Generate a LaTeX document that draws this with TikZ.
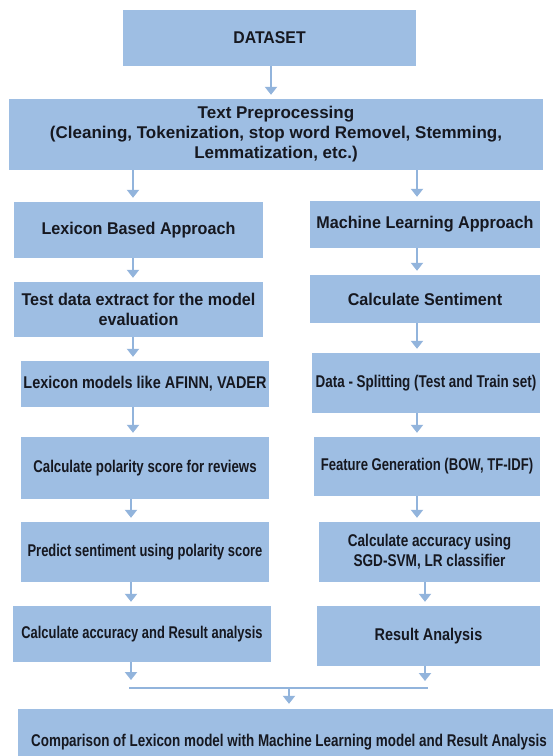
\documentclass[tikz,border=0pt]{standalone}
\usepackage{fontspec}
\setmainfont{Liberation Sans}
\usetikzlibrary{arrows.meta}
\definecolor{boxfill}{RGB}{158,190,227}
\definecolor{arrowc}{RGB}{146,180,220}
\definecolor{txt}{RGB}{22,24,32}
\tikzset{
  blk/.style={fill=boxfill, draw=none, inner sep=0pt, align=center, text=txt},
  % all labels share one size; only the horizontal set width differs
  fs/.style={font=\fontsize{17}{20}\selectfont\bfseries\addfontfeature{FakeStretch=#1}},
  arr/.style={draw=arrowc, line width=2.6pt,
    -{Triangle[width=12pt,length=8pt]}, shorten >=4pt},
  joinline/.style={draw=arrowc, line width=2.6pt}
}
\begin{document}
\begin{tikzpicture}[x=1pt,y=-1pt]
\clip (0,0) rectangle (553,756);
\fill[white] (0,0) rectangle (553,756);

% top blocks
\node[blk, fs=0.93, minimum width=293pt, minimum height=56pt] (ds) at (269.5,38) {DATASET};
\node[blk, fs=1.0, minimum width=534pt, minimum height=71pt] (tp) at (276,134.5)
  {Text Preprocessing\\(Cleaning, Tokenization, stop word Removel, Stemming,\\Lemmatization, etc.)};

% lexicon branch
\node[blk, fs=0.95, minimum width=249pt, minimum height=56pt] (lex) at (138.5,230) {Lexicon Based Approach};
\node[blk, fs=0.95, minimum width=249pt, minimum height=55pt] (td) at (138.5,309.5) {Test data extract for the model\\evaluation};
\node[blk, fs=0.85, minimum width=248pt, minimum height=46pt] (lm) at (145,384) {Lexicon models like AFINN, VADER};
\node[blk, fs=0.78, minimum width=248pt, minimum height=62pt] (cp) at (145,468) {Calculate polarity score for reviews};
\node[blk, fs=0.76, minimum width=248pt, minimum height=60pt] (ps) at (145,552) {Predict sentiment using polarity score};
\node[blk, fs=0.76, minimum width=258pt, minimum height=56pt] (car) at (142,634) {Calculate accuracy and Result analysis};

% machine learning branch
\node[blk, fs=0.95, minimum width=230pt, minimum height=47pt] (ml) at (425,224.5) {Machine Learning Approach};
\node[blk, fs=0.95, minimum width=230pt, minimum height=48pt] (cs) at (425,299) {Calculate Sentiment};
\node[blk, fs=0.79, minimum width=228pt, minimum height=60pt] (dsp) at (426,383) {Data - Splitting (Test and Train set)};
\node[blk, fs=0.77, minimum width=226pt, minimum height=59pt] (fg) at (427,466.5) {Feature Generation (BOW, TF-IDF)};
\node[blk, fs=0.80, minimum width=221pt, minimum height=60pt] (ca) at (429.5,552) {Calculate accuracy using\\SGD-SVM, LR classifier};
\node[blk, fs=0.85, minimum width=223pt, minimum height=60pt] (ra) at (428.5,636) {Result Analysis};

% final block
\node[blk, fs=0.79, minimum width=542pt, minimum height=66pt] (cmp) at (289,742)
  {Comparison of Lexicon model with Machine Learning model and Result Analysis};

% arrow columns
\coordinate (cM) at (271,0);
\coordinate (cL) at (133,0);
\coordinate (cLb) at (131,0);
\coordinate (cR) at (417,0);
\coordinate (cRb) at (425,0);
\coordinate (jL) at (129,688);
\coordinate (jR) at (428,688);
\coordinate (jM) at (289,688);

\draw[arr] (cM |- ds.south) -- (cM |- tp.north);
\draw[arr] (cL |- tp.south) -- (cL |- lex.north);
\draw[arr] (cR |- tp.south) -- (cR |- ml.north);

\draw[arr] (cL |- lex.south) -- (cL |- td.north);
\draw[arr] (cL |- td.south) -- (cL |- lm.north);
\draw[arr] (cL |- lm.south) -- (cL |- cp.north);
\draw[arr] (cLb |- cp.south) -- (cLb |- ps.north);
\draw[arr] (cLb |- ps.south) -- (cLb |- car.north);

\draw[arr] (cR |- ml.south) -- (cR |- cs.north);
\draw[arr] (cR |- cs.south) -- (cR |- dsp.north);
\draw[arr] (cR |- dsp.south) -- (cR |- fg.north);
\draw[arr] (cR |- fg.south) -- (cR |- ca.north);
\draw[arr] (cRb |- ca.south) -- (cRb |- ra.north);

% merge into the comparison block
\draw[arr, shorten >=8pt] (cLb |- car.south) -- (cLb |- jL);
\draw[arr, shorten >=7pt] (cRb |- ra.south) -- (cRb |- jR);
\draw[joinline] (jL) -- (jR);
\draw[arr, shorten >=5pt] (jM) -- (jM |- cmp.north);
\end{tikzpicture}
\end{document}
